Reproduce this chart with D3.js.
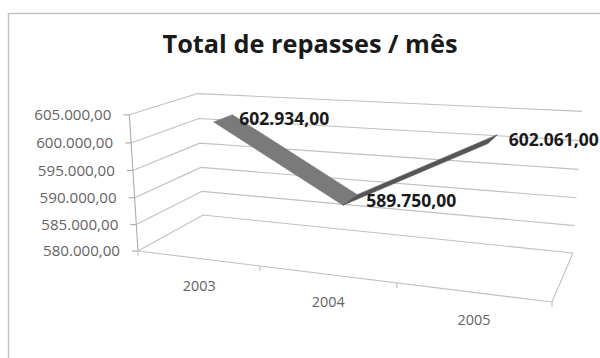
<!DOCTYPE html>
<html><head><meta charset="utf-8">
<script src="https://cdn.jsdelivr.net/npm/d3@7"></script>
<style>body{margin:0;background:#fff}svg{display:block}</style>
</head><body><svg id="c" width="600" height="358"></svg>
<script>
// ---- data ----
const categories = ["2003", "2004", "2005"];
const values = [602934, 589750, 602061];
const valueLabels = ["602.934,00", "589.750,00", "602.061,00"];
const yTicks = [580000, 585000, 590000, 595000, 600000, 605000];
const yTickLabels = ["580.000,00", "585.000,00", "590.000,00", "595.000,00", "600.000,00", "605.000,00"];
const chartTitle = "Total de repasses / mês";

// ---- layout: 3D box corners on screen ----
const floorFL = [138, 251], floorFR = [552, 302], floorBR = [573, 253], floorBL = [203, 215];
const topFL = [130, 112], topBL = [197, 93], topBR = [582, 115];

// homography unit square (u = category axis, w = depth) -> floor quad
function squareToQuad(p0, p1, p2, p3) {
  const [x0, y0] = p0, [x1, y1] = p1, [x2, y2] = p2, [x3, y3] = p3;
  const dx1 = x1 - x2, dx2 = x3 - x2, dx3 = x0 - x1 + x2 - x3;
  const dy1 = y1 - y2, dy2 = y3 - y2, dy3 = y0 - y1 + y2 - y3;
  const den = dx1 * dy2 - dx2 * dy1;
  const g = (dx3 * dy2 - dx2 * dy3) / den;
  const h = (dx1 * dy3 - dx3 * dy1) / den;
  return {
    a: x1 - x0 + g * x1, b: x3 - x0 + h * x3, c: x0,
    d: y1 - y0 + g * y1, e: y3 - y0 + h * y3, f: y0, g, h
  };
}
const H = squareToQuad(floorFL, floorFR, floorBR, floorBL);

// vertical column of the projection, least squares from the top corners
(function () {
  const obs = [[0, 0, topFL], [0, 1, topBL], [1, 1, topBR]];
  const rows = [], rhs = [];
  obs.forEach(([u, w, [X, Y]]) => {
    const D = H.g * u + H.h * w + 1;
    const Nx = H.a * u + H.b * w + H.c, Ny = H.d * u + H.e * w + H.f;
    rows.push([1, 0, -X]); rhs.push(X * D - Nx);
    rows.push([0, 1, -Y]); rhs.push(Y * D - Ny);
  });
  const M = [[0,0,0],[0,0,0],[0,0,0]], B = [0,0,0];
  rows.forEach((r, k) => {
    for (let i = 0; i < 3; i++) {
      B[i] += r[i] * rhs[k];
      for (let j = 0; j < 3; j++) M[i][j] += r[i] * r[j];
    }
  });
  for (let i = 0; i < 3; i++) {
    for (let k = i + 1; k < 3; k++) {
      const f = M[k][i] / M[i][i];
      for (let j = i; j < 3; j++) M[k][j] -= f * M[i][j];
      B[k] -= f * B[i];
    }
  }
  const s = [0,0,0];
  for (let i = 2; i >= 0; i--) {
    let t = B[i];
    for (let j = i + 1; j < 3; j++) t -= M[i][j] * s[j];
    s[i] = t / M[i][i];
  }
  H.px = s[0]; H.py = s[1]; H.pz = s[2];
})();

function proj(u, v, w) {
  const D = H.g * u + H.h * w + 1 + H.pz * v;
  return [(H.a * u + H.b * w + H.c + H.px * v) / D,
          (H.d * u + H.e * w + H.f + H.py * v) / D];
}

// ---- scales ----
const xScale = d3.scaleBand().domain(categories).range([0, 1]);
const yScale = d3.scaleLinear().domain([580000, 605000]).range([0, 1]);
const uc = c => xScale(c) + xScale.bandwidth() / 2;

const svg = d3.select("#c");
const FONT = "'Open Sans', 'Liberation Sans', sans-serif";
const line = d3.line();

// outer border
svg.append("rect").attr("x", 8.5).attr("y", 13.5).attr("width", 620).attr("height", 380)
  .attr("fill", "none").attr("stroke", "#c4c4c4").attr("stroke-width", 1.5);

// title
svg.append("text").text(chartTitle)
  .attr("x", 310).attr("y", 53).attr("text-anchor", "middle")
  .attr("font-family", FONT).attr("font-weight", 700).attr("font-size", 25)
  .attr("textLength", 295).attr("lengthAdjust", "spacingAndGlyphs")
  .attr("fill", "#1a1a1a");

// gridlines (left wall + back wall)
const gridG = svg.append("g").attr("fill", "none").attr("stroke", "#c0c0c0").attr("stroke-width", 1.1);
yTicks.forEach(t => {
  const v = yScale(t);
  gridG.append("path").attr("d", line([proj(0, v, 0), proj(0, v, 1), proj(1, v, 1)]));
});
// floor front + right edge
gridG.append("path").attr("d", line([proj(0, 0, 0), proj(1, 0, 0), proj(1, 0, 1)]));
// vertical value axis
gridG.append("path").attr("d", line([proj(0, 0, 0), proj(0, 1, 0)])).attr("stroke", "#ababab");

// value axis ticks + labels
yTicks.forEach((t, i) => {
  const [x, y] = proj(0, yScale(t), 0);
  gridG.append("path").attr("d", line([[x - 6, y], [x, y]])).attr("stroke", "#ababab");
  svg.append("text").text(yTickLabels[i])
    .attr("x", x - 18).attr("y", y).attr("text-anchor", "end").attr("dy", "0.35em")
    .attr("font-family", FONT).attr("font-size", 14.5)
    .attr("textLength", 77).attr("lengthAdjust", "spacingAndGlyphs")
    .attr("fill", "#636363");
});

// category ticks + labels
const bounds = [0].concat(categories.map(c => xScale(c) + xScale.bandwidth()));
bounds.forEach(u => {
  const [x, y] = proj(u, 0, 0);
  gridG.append("path").attr("d", line([[x, y], [x, y + 5]]));
});
categories.forEach(c => {
  const [x, y] = proj(uc(c), 0, 0);
  svg.append("text").text(c)
    .attr("x", x + 2).attr("y", y + 28).attr("text-anchor", "middle").attr("dy", "0.35em")
    .attr("font-family", FONT).attr("font-size", 14)
    .attr("textLength", 33).attr("lengthAdjust", "spacingAndGlyphs")
    .attr("fill", "#636363");
});

// ribbon (3D line)
const w0 = 0.33, w1 = 0.63;
const segColors = ["#7a7a7a", "#555555"];
for (let i = 0; i < values.length - 1; i++) {
  const ua = uc(categories[i]), ub = uc(categories[i + 1]);
  const va = yScale(values[i]), vb = yScale(values[i + 1]);
  svg.append("path")
    .attr("d", line([proj(ua, va, w0), proj(ub, vb, w0), proj(ub, vb, w1), proj(ua, va, w1)]) + "Z")
    .attr("fill", segColors[i]).attr("stroke", segColors[i]).attr("stroke-width", 0.6)
    .attr("stroke-linejoin", "round");
}

// data labels
values.forEach((val, i) => {
  const [x, y] = proj(uc(categories[i]), yScale(val), (w0 + w1) / 2);
  svg.append("text").text(valueLabels[i])
    .attr("x", x + 16).attr("y", y + 1).attr("dy", "0.35em")
    .attr("font-family", FONT).attr("font-weight", 700).attr("font-size", 17.5)
    .attr("textLength", 90).attr("lengthAdjust", "spacingAndGlyphs")
    .attr("fill", "#1a1a1a");
});
</script></body></html>
